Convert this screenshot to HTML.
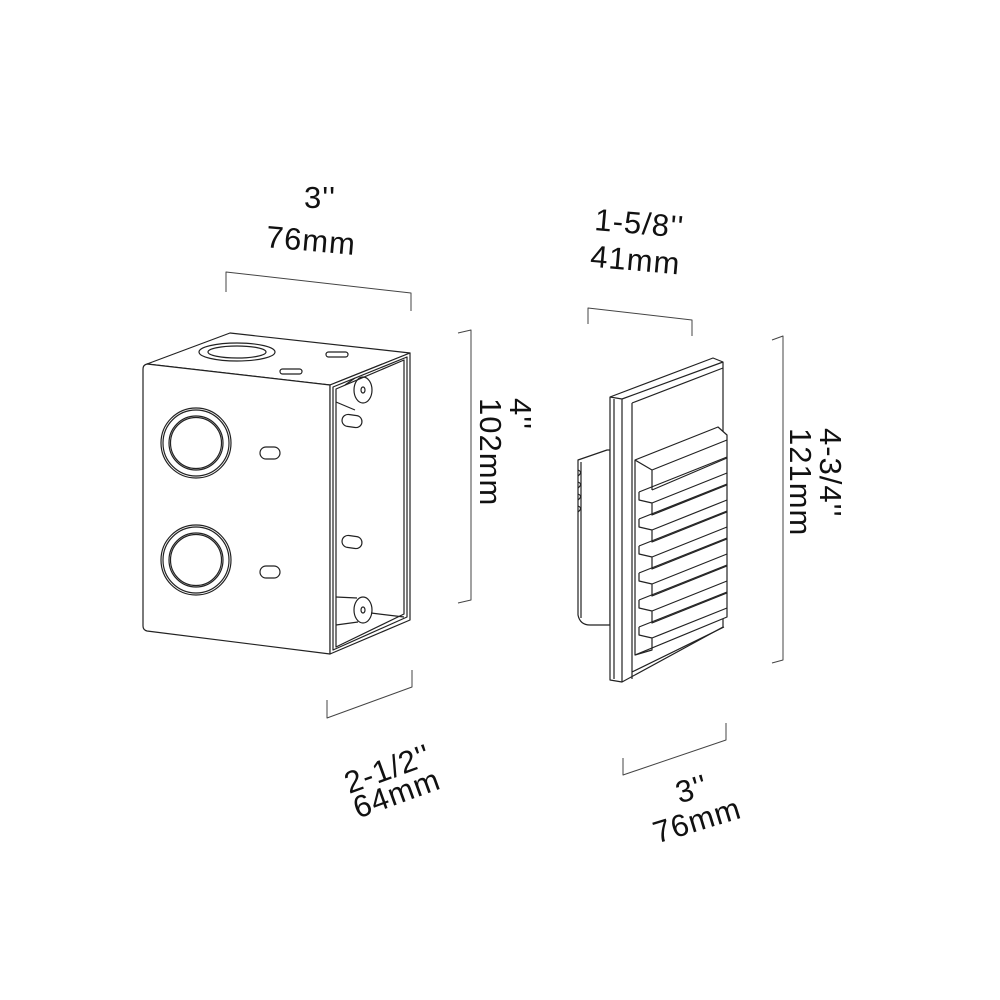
<!DOCTYPE html>
<html><head><meta charset="utf-8"><style>
html,body{margin:0;padding:0;background:#fff;}
svg{display:block}
text{font-family:"Liberation Sans",sans-serif;font-size:31px;fill:#111;letter-spacing:1px;}
</style></head><body>
<svg width="1000" height="1000" viewBox="0 0 1000 1000" xmlns="http://www.w3.org/2000/svg">
<g fill="none" stroke="#222" stroke-width="1.2" stroke-linejoin="round">
<g stroke="#444" stroke-width="1">
<polyline points="226,292 226,272 411,293 411,311"/>
<polyline points="458,333 471,330 471,600 458,603"/>
<polyline points="327,700 327,718 412,687 412,670"/>
<polyline points="588,324 588,308 692,320 692,336"/>
<polyline points="772,340 783,336 783,660 772,663"/>
<polyline points="623,758 623,775 726,740 726,723"/>
</g>
<path d="M147,364 L230,333 L410,353 L330,385 Z" fill="#fff"/>
<path d="M147,364 L330,385 L330,654 L147,631 Q143,630 143,626 L143,369 Q143,365 147,364 Z" fill="#fff"/>
<path d="M330,385 L410,353 L410,620 L330,654 Z" fill="#fff"/>
<path d="M333,387 L407,357 L407,617 L333,650 Z"/>
<path d="M336,389 L404,360 L404,614 L336,647 Z"/>
<ellipse cx="237" cy="352" rx="38" ry="9"/>
<ellipse cx="237" cy="352" rx="29" ry="6"/>
<rect x="280" y="369" width="22" height="5" rx="2.5"/>
<rect x="326" y="352" width="22" height="5" rx="2.5"/>
<circle cx="196" cy="443" r="35"/><circle cx="196" cy="443" r="33"/>
<circle cx="196" cy="443" r="27"/><circle cx="196" cy="443" r="25.5"/>
<circle cx="196" cy="560" r="35"/><circle cx="196" cy="560" r="33"/>
<circle cx="196" cy="560" r="27"/><circle cx="196" cy="560" r="25.5"/>
<rect x="260" y="447" width="20" height="12" rx="6"/>
<rect x="260" y="566" width="20" height="12" rx="6"/>
<rect x="342" y="415" width="20" height="12" rx="6" transform="rotate(8 352 421)"/>
<rect x="342" y="536" width="20" height="12" rx="6" transform="rotate(8 352 542)"/>
<ellipse cx="363" cy="390" rx="9" ry="13"/><ellipse cx="363" cy="390" rx="2" ry="3"/>
<path d="M336,402 L355,410 M355,378 L345,385"/>
<ellipse cx="363" cy="610" rx="9" ry="13"/><ellipse cx="363" cy="610" rx="2" ry="3"/>
<path d="M336,597 L357,598 M336,625 L358,622 M371,613 L404,617"/>
<path d="M578,460 L607,450 L610,450 L610,625 L590,625 Q580,625 578,615 Z" fill="#fff"/>
<path d="M581,462 L581,618"/>
<path d="M578,470 Q583,472 578,476 M578,482 Q583,484 578,488 M578,494 Q583,496 578,500 M578,506 Q583,508 578,512"/>
<path d="M610,397 L713,358 L723,362 L723,627 L622,682 L610,680 Z" fill="#fff"/>
<path d="M622,399 L723,362 M610,397 L622,399 L622,682 M632,403 L723,368 M632,403 L632,679 M724,627 L632,672"/>
<path d="M614,399 L614,679"/>
<path d="M635,460 L718,427 L727,435 L727,617 L635,655 Z" fill="#fff"/>
<path d="M635,460 L652,470 L652,490 M652,470 L727,440 M652,490 L727,458"/>
<g>
<path d="M639,492 L727,457 M639,492 L639,500 L652,503 L727,473 M652,503 L652,515 L727,485"/>
<path d="M639,519 L727,484 M639,519 L639,527 L652,530 L727,500 M652,530 L652,542 L727,512"/>
<path d="M639,546 L727,511 M639,546 L639,554 L652,557 L727,527 M652,557 L652,569 L727,539"/>
<path d="M639,573 L727,538 M639,573 L639,581 L652,584 L727,554 M652,584 L652,596 L727,566"/>
<path d="M639,600 L727,565 M639,600 L639,608 L652,611 L727,581 M652,611 L652,623 L727,593"/>
<path d="M639,627 L727,592 M639,627 L639,635 L652,638 L727,608 M652,638 L652,650 L635,655"/>
</g>
</g>
<text x="304" y="208">3''</text>
<text x="266" y="251" transform="rotate(5 310 240)">76mm</text>
<text x="594" y="234" transform="rotate(5 640 230)">1-5/8''</text>
<text x="590" y="271" transform="rotate(5 640 265)">41mm</text>
<g transform="translate(500,470) rotate(90)"><text x="-72" y="-10">4''</text><text x="-72" y="20">102mm</text></g>
<g transform="translate(810,500) rotate(90)"><text x="-72" y="-10">4-3/4''</text><text x="-72" y="20">121mm</text></g>
<text x="340" y="778" transform="rotate(-20 390 760)">2-1/2''</text>
<text x="350" y="806" transform="rotate(-20 390 790)">64mm</text>
<text x="676" y="800" transform="rotate(-17 690 790)">3''</text>
<text x="652" y="830" transform="rotate(-17 700 820)">76mm</text>
</svg>
</body></html>
